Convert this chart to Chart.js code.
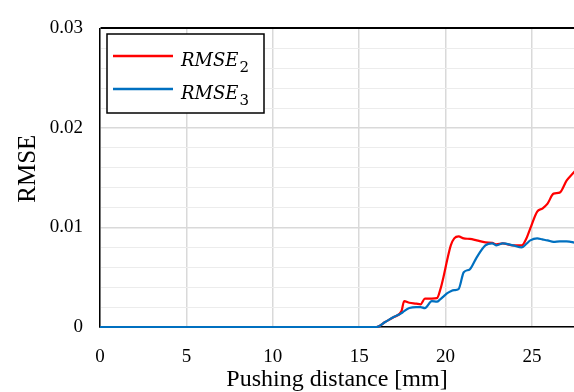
<!DOCTYPE html>
<html><head><meta charset="utf-8">
<script src="https://cdn.jsdelivr.net/npm/chart.js@4/dist/chart.umd.min.js"></script>
<style>html,body{margin:0;padding:0;background:#fff}#wrap{width:574px;height:392px}</style>
</head><body><div id="wrap"><canvas id="c" width="574" height="392"></canvas></div>
<script>
const distance = [0, 16, 16.5, 17, 17.45, 17.6, 17.9, 18.3, 18.55, 18.8, 19.2, 19.5, 19.7, 19.9, 20.1, 20.3, 20.5, 20.75, 21.05, 21.4, 21.8, 22.3, 22.7, 22.95, 23.3, 23.9, 24.4, 24.7, 24.9, 25.3, 25.6, 25.9, 26.25, 26.6, 27.0, 27.4, 27.6];
const rmse2 = [0, 0, 0.0005, 0.001, 0.0016, 0.0026, 0.00244, 0.00235, 0.00228, 0.00285, 0.00286, 0.0029, 0.0038, 0.0052, 0.0068, 0.0082, 0.0089, 0.0091, 0.0089, 0.00885, 0.0087, 0.0085, 0.00845, 0.0083, 0.0084, 0.0082, 0.0082, 0.0090, 0.0099, 0.0116, 0.0119, 0.0124, 0.0134, 0.0135, 0.0147, 0.0155, 0.0159];
const rmse3 = [0, 0, 0.0005, 0.001, 0.0014, 0.0016, 0.0019, 0.002, 0.002, 0.0019, 0.0026, 0.00254, 0.0028, 0.0031, 0.0034, 0.0036, 0.0037, 0.0038, 0.0055, 0.0058, 0.0070, 0.0082, 0.0084, 0.0082, 0.0084, 0.0082, 0.0080, 0.0084, 0.0087, 0.0089, 0.0088, 0.0087, 0.00855, 0.0086, 0.0086, 0.0085, 0.0084];
const seriesNames = ['RMSE₂', 'RMSE₃'];
const seriesColors = ['#ff0000', '#0070c0'];
const xTickLabels = ['0', '5', '10', '15', '20', '25'];
const yTickLabels = ['0', '0.01', '0.02', '0.03'];

const SERIF = "'Liberation Serif', 'Times New Roman', serif";

const subLegend = {
  id: 'subLegend',
  afterLayout(chart) {
    const s = chart.scales.y;
    if (s && !s._shifted) {
      const orig = s.drawTitle.bind(s);
      s.drawTitle = function () { this.ctx.save(); this.ctx.translate(0, -9); orig(); this.ctx.restore(); };
      s._shifted = true;
    }
  },
  afterDraw(chart) {
    const ctx = chart.ctx;
    const bx = 107, by = 34, bw = 157, bh = 79;
    ctx.save();
    ctx.fillStyle = '#fff';
    ctx.fillRect(bx, by, bw, bh);
    ctx.strokeStyle = '#000';
    ctx.lineWidth = 1.5;
    ctx.strokeRect(bx, by, bw, bh);
    const subMap = {'₀':'0','₁':'1','₂':'2','₃':'3','₄':'4','₅':'5','₆':'6','₇':'7','₈':'8','₉':'9'};
    chart.data.datasets.forEach((ds, i) => {
      const y = 56 + i * 33;
      ctx.strokeStyle = ds.borderColor;
      ctx.lineWidth = 2.5;
      ctx.beginPath(); ctx.moveTo(113, y); ctx.lineTo(173, y); ctx.stroke();
      const m = ds.label.match(/^(.*?)([₀-₉]*)$/);
      const base = m[1], sub = m[2].split('').map(c => subMap[c]).join('');
      ctx.fillStyle = '#000';
      ctx.textBaseline = 'alphabetic';
      ctx.textAlign = 'left';
      ctx.font = "italic 18px 'DejaVu Serif', serif";
      ctx.fillText(base, 181, y + 10);
      const w = ctx.measureText(base).width;
      ctx.font = "15px 'DejaVu Serif', serif";
      ctx.fillText(sub, 181 + w + 1, y + 16);
    });
    ctx.restore();
  }
};

const datasets = seriesNames.map((name, i) => ({
  label: name,
  data: distance.map((d, k) => ({x: d, y: (i === 0 ? rmse2 : rmse3)[k]})),
  borderColor: seriesColors[i],
  backgroundColor: seriesColors[i],
  borderWidth: 2.2,
  pointRadius: 0,
  cubicInterpolationMode: 'monotone',
  clip: false,
  fill: false
}));
datasets[0].order = 1; datasets[1].order = 0;

new Chart(document.getElementById('c'), {
  type: 'line',
  data: { datasets },
  options: {
    responsive: false,
    animation: false,
    layout: { padding: { top: 16, right: 0, left: 0, bottom: 0 } },
    plugins: { legend: { display: false }, tooltip: { enabled: false } },
    scales: {
      x: {
        type: 'linear', min: 0, max: 27.43,
        afterFit(s) { s.height = 65; },
        ticks: {
          stepSize: 5, includeBounds: false, padding: 19, color: '#000',
          font: { family: SERIF, size: 19 }, maxRotation: 0, autoSkip: false,
          callback: (v) => { const i = Math.round(v / 5); return (Math.abs(v - i * 5) < 1e-6 && xTickLabels[i] !== undefined) ? xTickLabels[i] : ''; }
        },
        grid: { color: '#d9d9d9', lineWidth: 1.5, drawTicks: false },
        border: { color: '#000', width: 1.5 },
        title: { display: true, text: 'Pushing distance [mm]', color: '#000', font: { family: SERIF, size: 24 }, padding: { top: 0, bottom: -2 } }
      },
      y: {
        type: 'linear', min: 0, max: 0.03,
        afterFit(s) { s.width = 100; },
        ticks: {
          stepSize: 0.002, maxTicksLimit: 100, autoSkip: false, padding: 17, color: '#000',
          font: { family: SERIF, size: 19 },
          callback: (v) => { const k = Math.round(v * 1000); return (k % 10 === 0) ? yTickLabels[k / 10] : ''; }
        },
        grid: {
          drawTicks: false,
          color: (c) => { const k = Math.round(c.tick.value * 1000); if (k === 30) return '#000'; return k % 10 === 0 ? '#d9d9d9' : '#ececec'; },
          lineWidth: (c) => { const k = Math.round(c.tick.value * 1000); if (k === 30) return 2; return k % 10 === 0 ? 1.5 : 1; }
        },
        border: { color: '#000', width: 1.5 },
        title: { display: true, text: 'RMSE', color: '#000', font: { family: SERIF, size: 25 }, padding: { top: 13, bottom: 0 } }
      }
    }
  },
  plugins: [subLegend]
});
</script>
</body></html>
